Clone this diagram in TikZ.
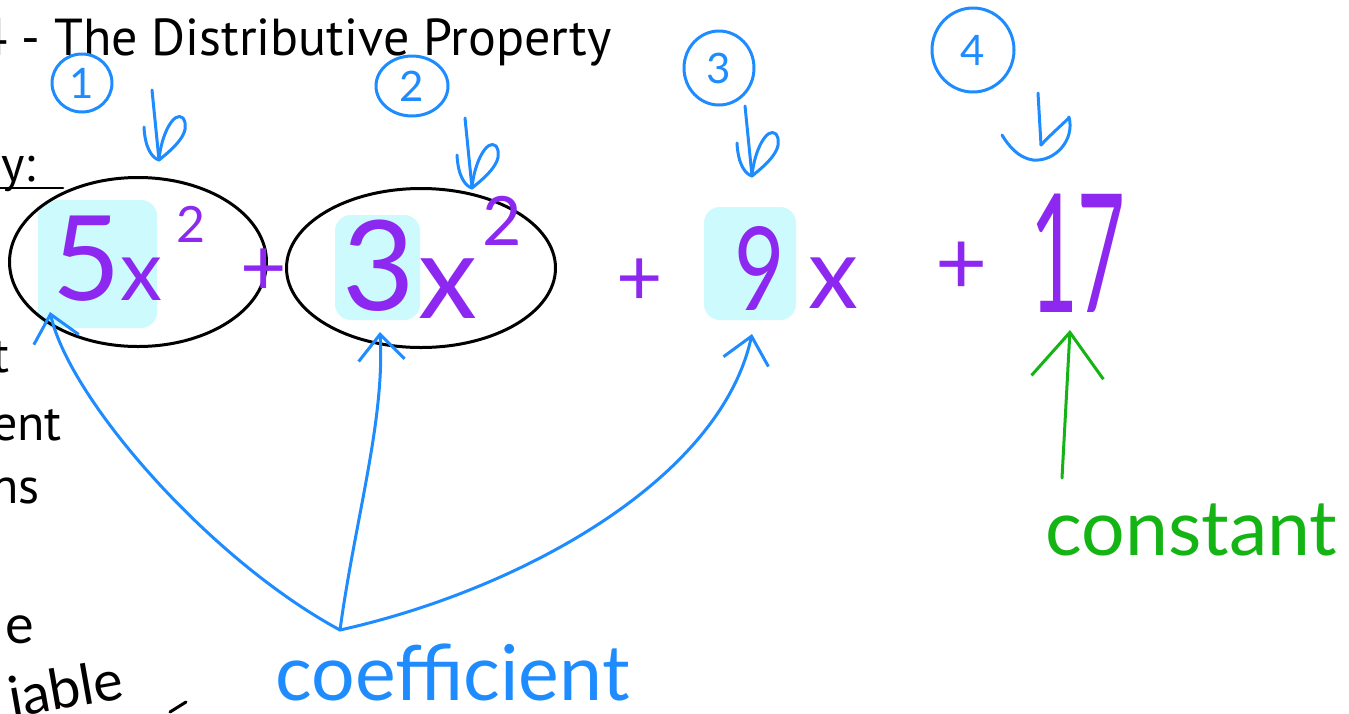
\documentclass[tikz,border=0pt]{standalone}
\usepackage{fontspec}
\setmainfont{Lato}
\newfontfamily\titlefont{PT Sans}
\usetikzlibrary{arrows.meta,shapes.geometric}
\definecolor{penblue}{RGB}{30,140,255}
\definecolor{penpurple}{RGB}{140,40,240}
\definecolor{pengreen}{RGB}{20,180,20}
\definecolor{hilite}{RGB}{205,250,252}
\newcommand{\fs}[1]{\fontsize{#1}{#1}\selectfont}

\begin{document}
\begin{tikzpicture}[x=1pt, y=-1pt, line cap=round, line join=round,
  pen/.style={line width=3pt},
  ring/.style={ellipse, draw=black, pen, inner sep=0pt},
  numring/.style={ellipse, draw=penblue, pen, text=penblue, inner sep=0pt, font=\fs{42}},
  hl/.style={fill=hilite, rounded corners=16pt, inner sep=0pt},
  term/.style={text=penpurple, inner sep=0pt, anchor=base west},
  body/.style={font=\titlefont\fs{50}, inner sep=0pt, anchor=base east},
  coefarrow/.style={pen, draw=penblue, -{Straight Barb[length=26pt, width=46pt, line width=3pt]}}
]
  \fill[white] (0,0) rectangle (1349,713);
  \useasboundingbox (0,0) rectangle (1349,713);
  \clip (0,0) rectangle (1349,713);

  % Printed worksheet text (cut off at the left)
  \node[body, font=\titlefont\fs{52}] (title) at (612,55) {4 - The Distributive Property};
  \node[body] (lbly) at (36,181) {y:};
  \draw[line width=2.5pt] (-2,188) -- (63,188);
  \node[body] (lblt) at (10,372) {t};
  \node[body] (lblent) at (62,440) {ent};
  \node[body] (lblns) at (40,503) {ns};
  \node[anchor=base east, inner sep=0pt, font=\fs{54}] (lble) at (34,643) {e};
  \node[anchor=base west, inner sep=0pt, font=\fs{56}, rotate=10] (lbliable) at (12,718) {iable};
  \draw[pen] (170,712) -- (186,702);

  % Highlights behind the coefficients
  \node[hl, minimum width=119pt, minimum height=128pt] (h5) at (97.5,264) {};
  \node[hl, minimum width=85pt, minimum height=105pt] (h3) at (377.5,267.5) {};
  \node[hl, minimum width=92pt, minimum height=113pt] (h9) at (750,263.5) {};

  % Circled terms
  \node[ring, minimum width=257pt, minimum height=169pt] (t1) at (138,262) {};
  \node[ring, minimum width=269pt, minimum height=159pt] (t2) at (421,268) {};

  % The expression
  \node[term, font=\fs{118}] (c5) at (52,300) {5};
  \node[term, font=\fs{84}] (x1) at (120,300) {x};
  \node[term, font=\fs{50}] (e1) at (176,242) {2};
  \node[term, font=\fs{80}, anchor=center] (p1) at (264,272) {+};
  \node[term, font=\fs{125}] (c3) at (342,310) {3};
  \node[term, font=\fs{118}] (x2) at (418,318) {x};
  \node[term, font=\fs{68}] (e2) at (482,245) {2};
  \node[term, font=\fs{80}, anchor=center] (p2) at (640,282) {+};
  \node[term, font=\fs{116}, xscale=0.75, transform shape] (c9) at (734,310) {9};
  \node[term, font=\fs{100}] (x3) at (808,308) {x};
  \node[term, font=\fs{90}, anchor=center] (p3) at (962,268) {+};
  \node[term, font=\fs{165}, xscale=0.5, transform shape] (n17) at (1030,312) {17};

  % Term numbers
  \node[numring, minimum width=60pt, minimum height=58pt] (n1) at (82,83) {1};
  \node[numring, minimum width=72pt, minimum height=60pt] (n2) at (412,86) {2};
  \node[numring, minimum width=70pt, minimum height=74pt] (n3) at (719,68) {3};
  \node[numring, minimum width=82pt, minimum height=84pt] (n4) at (973,50) {4};

  % Little b arrows under the numbers
  \foreach \sx/\sy in {152/90, 465/118, 745/106} {
    \begin{scope}[shift={(\sx,\sy)}]
      \draw[pen, penblue] (0,0) -- (7,70);
      \draw[pen, penblue] (-8,37) .. controls (-7,58) and (0,68) .. (7,70);
      \draw[pen, penblue] (7,70) .. controls (22,58) and (40,42) .. (31,28)
        .. controls (22,20) and (9,45) .. (7,70);
    \end{scope}
  }
  \draw[pen, penblue] (1038,93) -- (1041,145);
  \draw[pen, penblue] (1041,145) .. controls (1055,130) and (1070,118) .. (1069,117)
    .. controls (1075,140) and (1055,162) .. (1033,160)
    .. controls (1018,158) and (1008,145) .. (1002,135);

  % Labels and their arrows
  \node[anchor=base west, inner sep=0pt, text=penblue, font=\fs{77}] (coef) at (275,700) {coefficient};
  \coordinate (hub) at (340,630);
  \coordinate (tip5) at (50,312);
  \coordinate (tip3) at (380,332);
  \coordinate (tip9) at (752,334);
  \draw[coefarrow] (hub) .. controls (210,560) and (70,400) .. (tip5);
  \draw[coefarrow] (hub) .. controls (355,520) and (385,420) .. (tip3);
  \draw[coefarrow] (hub) .. controls (520,590) and (720,480) .. (tip9);

  \node[anchor=base west, inner sep=0pt, text=pengreen, font=\fs{77}] (const) at (1045,555) {constant};
  \coordinate (ctail) at (1062,478);
  \coordinate (ctip) at (1070,330);
  \draw[pen, draw=pengreen, -{Straight Barb[length=45pt, width=72pt, line width=3pt]}] (ctail) -- (ctip);
\end{tikzpicture}
\end{document}
